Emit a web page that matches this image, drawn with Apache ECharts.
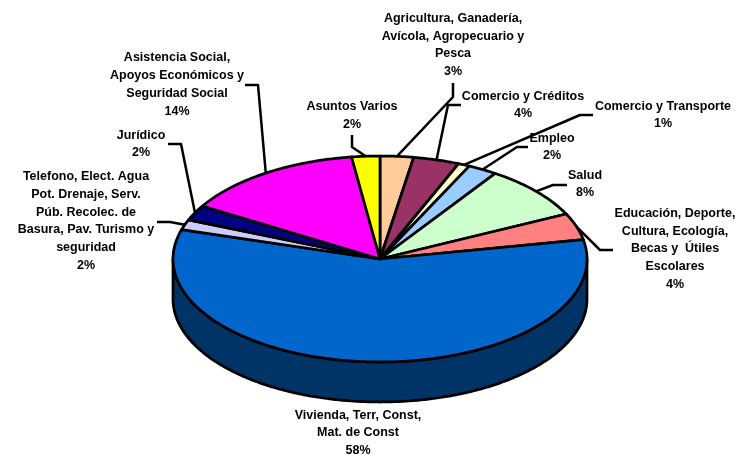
<!DOCTYPE html>
<html>
<head>
<meta charset="utf-8">
<style>
  html, body {margin: 0; padding: 0; background: #fff;}
  #chart {width: 738px; height: 456px;}
</style>
<script src="https://cdn.jsdelivr.net/npm/echarts@6/dist/echarts.min.js"></script>
</head>
<body>
<div id="chart"></div>
<script>
  // slices run clockwise from 12 o'clock
  var names = [
    'Agricultura, Ganadería,\nAvícola, Agropecuario y\nPesca',
    'Comercio y Créditos',
    'Comercio y Transporte',
    'Empleo',
    'Salud',
    'Educación, Deporte,\nCultura, Ecología,\nBecas y  Útiles\nEscolares',
    'Vivienda, Terr, Const,\nMat. de Const',
    'Telefono, Elect. Agua\nPot. Drenaje, Serv.\nPúb. Recolec. de\nBasura, Pav. Turismo y\nseguridad',
    'Jurídico',
    'Asistencia Social,\nApoyos Económicos y\nSeguridad Social',
    'Asuntos Varios'
  ];
  var values = [2.6, 3.6, 0.9, 2.3, 8.4, 4.2, 57.6, 1.6, 2.4, 14.2, 2.2];
  var colors = ['#FFCC99', '#993366', '#FFFFCC', '#99CCFF', '#CCFFCC', '#FF8080',
    '#0066CC', '#CCCCFF', '#000080', '#FF00FF', '#FFFF00'];
  var wallColor = '#003366';

  // pie layout
  var cx = 380, cy = 259, rx = 207, ry = 103, depth = 40;

  // label block centres
  var labelPos = [[453, 45], [523, 105], [663, 115], [552, 147], [585, 184], [675, 249],
    [358, 433], [86, 221], [141, 144], [177, 84.5], [352, 115.5]];
  // leader line start and elbow, the end comes from the slice angle
  var leaders = [
    [[453, 83], [453, 97]],
    [[461, 105], [448, 105]],
    [[593, 115], [580, 115]],
    [[528, 147], [517, 147]],
    [[567, 185], [553, 185]],
    [[613, 250], [600, 250]],
    null,
    [[157, 222], [170, 222]],
    [[168, 144], [181, 144]],
    [[245, 85], [258, 85]],
    [[352, 135], [352, 147]]
  ];

  var total = values.reduce(function (a, b) { return a + b; }, 0);

  function startAngle(i) {
    var sum = 0;
    for (var k = 0; k < i; k++) sum += values[k];
    return sum / total * 360;
  }

  function edgePoint(deg, drop) {
    var t = deg * Math.PI / 180;
    return [cx + rx * Math.sin(t), cy - ry * Math.cos(t) + (drop || 0)];
  }

  function arcPoints(from, to, drop) {
    var pts = [];
    var steps = Math.max(2, Math.ceil((to - from) * 2));
    for (var s = 0; s <= steps; s++) {
      pts.push(edgePoint(from + (to - from) * s / steps, drop));
    }
    return pts;
  }

  function renderSlice(params, api) {
    var i = params.dataIndex;
    var from = startAngle(i);
    var to = from + api.value(0) / total * 360;
    var children = [];
    // only the front half of the rim shows
    var a = Math.max(from, 90), b = Math.min(to, 270);
    if (a < b) {
      children.push({
        type: 'polygon',
        shape: {points: arcPoints(a, b, 0).concat(arcPoints(a, b, depth).reverse())},
        style: {fill: wallColor, stroke: '#000', lineWidth: 2.75, lineJoin: 'round'}
      });
    }
    children.push({
      type: 'polygon',
      shape: {points: [[cx, cy]].concat(arcPoints(from, to, 0))},
      style: {fill: colors[i], stroke: '#000', lineWidth: 2.75, lineJoin: 'round'}
    });
    return {type: 'group', children: children};
  }

  function renderLabel(params, api) {
    var i = params.dataIndex;
    var mid = startAngle(i) + api.value(0) / total * 180;
    var children = [];
    if (leaders[i]) {
      children.push({
        type: 'polyline',
        shape: {points: leaders[i].concat([edgePoint(mid, 0)])},
        style: {fill: null, stroke: '#000', lineWidth: 2.5, lineJoin: 'round'}
      });
    }
    children.push({
      type: 'text',
      x: labelPos[i][0],
      y: labelPos[i][1],
      style: {
        text: names[i] + '\n' + Math.round(api.value(0) / total * 100) + '%',
        font: 'bold 12.5px "Liberation Sans", Arial, sans-serif',
        fill: '#000',
        align: 'center',
        verticalAlign: 'middle',
        lineHeight: 17.8
      }
    });
    return {type: 'group', children: children};
  }

  var chart = echarts.init(document.getElementById('chart'), null, {renderer: 'canvas'});
  chart.setOption({
    backgroundColor: '#fff',
    animation: false,
    series: [
      {type: 'custom', coordinateSystem: 'none', silent: true, z: 1,
        renderItem: renderLabel, data: values.map(function (v) { return [v]; })},
      {type: 'custom', coordinateSystem: 'none', silent: true, z: 2,
        renderItem: renderSlice, data: values.map(function (v) { return [v]; })}
    ]
  });
</script>
</body>
</html>
